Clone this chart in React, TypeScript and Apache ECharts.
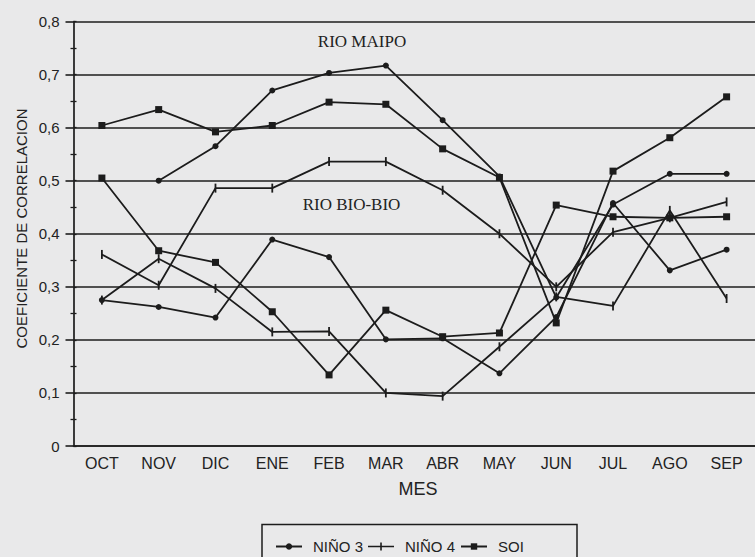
import React, { useEffect, useRef } from "react";
import * as echarts from "echarts";

// Months of the hydrological year
const MONTHS = ["OCT", "NOV", "DIC", "ENE", "FEB", "MAR", "ABR", "MAY", "JUN", "JUL", "AGO", "SEP"];

// Río Maipo correlations
const MAIPO_NINO3 = [null, 0.5, 0.565, 0.67, 0.703, 0.717, 0.614, 0.508, 0.28, 0.455, 0.513, 0.513];
const MAIPO_NINO4 = [0.361, 0.303, 0.486, 0.486, 0.536, 0.536, 0.482, 0.4, 0.3, 0.403, 0.43, 0.46];
const MAIPO_SOI = [0.604, 0.634, 0.592, 0.604, 0.648, 0.644, 0.56, 0.506, 0.232, 0.518, 0.581, 0.658];

// Río Bío-Bío correlations
const BIOBIO_NINO3 = [0.275, 0.262, 0.242, 0.389, 0.356, 0.201, 0.203, 0.137, 0.243, 0.458, 0.331, 0.37];
const BIOBIO_NINO4 = [0.275, 0.353, 0.297, 0.215, 0.216, 0.1, 0.094, 0.187, 0.281, 0.264, 0.444, 0.278];
const BIOBIO_SOI = [0.505, 0.368, 0.346, 0.253, 0.134, 0.256, 0.206, 0.213, 0.454, 0.432, 0.43, 0.432];

const INK = "#1c1c1c";
const SANS = "'Liberation Sans', Arial, sans-serif";
const SERIF = "'Liberation Serif', 'Times New Roman', serif";

// Legend icon for NIÑO 4: a line crossed by a short vertical tick
const CROSS_ICON = "path://M0,3.2H12.2V0H13.8V3.2H26V4.8H13.8V8H12.2V4.8H0Z";

const LEGEND = [{ name: "NIÑO 3" }, { name: "NIÑO 4", icon: CROSS_ICON }, { name: "SOI" }];

const markers: Record<string, { symbol: string; symbolSize: number | number[] }> = {
  "NIÑO 3": { symbol: "circle", symbolSize: 6 },
  "NIÑO 4": { symbol: "rect", symbolSize: [1.8, 9] },
  SOI: { symbol: "rect", symbolSize: 7 },
};

function makeSeries(name: string, data: (number | null)[]) {
  return {
    type: "line",
    name,
    data,
    ...markers[name],
    connectNulls: false,
    itemStyle: { color: INK },
    lineStyle: { color: INK, width: 1.8 },
    emphasis: { disabled: true },
    z: 3,
  };
}

export default function App() {
  const ref = useRef<HTMLDivElement>(null);

  useEffect(() => {
    if (!ref.current) return;
    const chart = echarts.init(ref.current, null, { renderer: "svg" });
    chart.setOption({
      animation: false,
      backgroundColor: "#e9e9ea",
      grid: { left: 73.5, right: -9, top: 21.5, bottom: 111, containLabel: false },
      xAxis: [
        {
          type: "category",
          data: MONTHS,
          boundaryGap: true,
          axisLine: { lineStyle: { color: INK, width: 1.7 } },
          axisTick: { alignWithLabel: true, length: 6, lineStyle: { color: INK, width: 1.4 } },
          axisLabel: { color: "#222", fontFamily: SANS, fontSize: 16, margin: 9 },
          splitLine: { show: false },
        },
        {
          type: "category",
          data: MONTHS,
          position: "bottom",
          boundaryGap: true,
          axisLine: { show: false },
          axisTick: { inside: true, alignWithLabel: true, length: 7, lineStyle: { color: INK, width: 1.4 } },
          axisLabel: { show: false },
          splitLine: { show: false },
        },
      ],
      yAxis: [
        {
          type: "value",
          min: 0,
          max: 0.8,
          interval: 0.1,
          axisLine: { show: true, lineStyle: { color: INK, width: 1.7 } },
          axisTick: { show: true, length: 8, lineStyle: { color: INK, width: 1.6 } },
          minorTick: { show: true, splitNumber: 2, length: 3, lineStyle: { color: INK, width: 1.3 } },
          axisLabel: {
            color: "#222",
            fontFamily: SANS,
            fontSize: 15,
            margin: 14,
            formatter: (v: number) => (v === 0 ? "0" : v.toFixed(1).replace(".", ",")),
          },
          splitLine: { show: true, lineStyle: { color: INK, width: 1.6 } },
        },
        {
          type: "value",
          min: 0,
          max: 0.8,
          interval: 0.05,
          position: "left",
          axisLine: { show: false },
          axisTick: { show: true, inside: true, length: 3, lineStyle: { color: INK, width: 1.3 } },
          axisLabel: { show: false },
          splitLine: { show: false },
        },
      ],
      legend: {
        data: LEGEND,
        left: 270,
        top: 534,
        itemWidth: 26,
        itemHeight: 8,
        itemGap: 5,
        selectedMode: false,
        itemStyle: { color: INK },
        textStyle: { color: "#222", fontFamily: SANS, fontSize: 15, padding: [0, 0, 0, 6] },
      },
      series: [
        makeSeries("NIÑO 3", MAIPO_NINO3),
        makeSeries("NIÑO 4", MAIPO_NINO4),
        makeSeries("SOI", MAIPO_SOI),
        makeSeries("NIÑO 3", BIOBIO_NINO3),
        makeSeries("NIÑO 4", BIOBIO_NINO4),
        makeSeries("SOI", BIOBIO_SOI),
      ],
      graphic: [
        {
          type: "text",
          x: 362,
          y: 41,
          style: { text: "RIO MAIPO", font: `17px ${SERIF}`, fill: "#222", align: "center", verticalAlign: "middle" },
        },
        {
          type: "text",
          x: 351.5,
          y: 204,
          style: { text: "RIO BIO-BIO", font: `17px ${SERIF}`, fill: "#222", align: "center", verticalAlign: "middle" },
        },
        {
          type: "text",
          x: 21.5,
          y: 228.5,
          rotation: Math.PI / 2,
          style: {
            text: "COEFICIENTE DE CORRELACION",
            font: `15px ${SANS}`,
            fill: "#222",
            align: "center",
            verticalAlign: "middle",
          },
        },
        {
          type: "text",
          x: 418,
          y: 489,
          style: { text: "MES", font: `18px ${SANS}`, fill: "#222", align: "center", verticalAlign: "middle" },
        },
        {
          type: "rect",
          shape: { x: 262, y: 524.5, width: 315, height: 60 },
          style: { fill: "none", stroke: INK, lineWidth: 1.5 },
        },
      ],
    });
    return () => chart.dispose();
  }, []);

  return (
    <div
      ref={ref}
      style={{ position: "absolute", left: 0, top: 0, width: 755, height: 557 }}
    />
  );
}
